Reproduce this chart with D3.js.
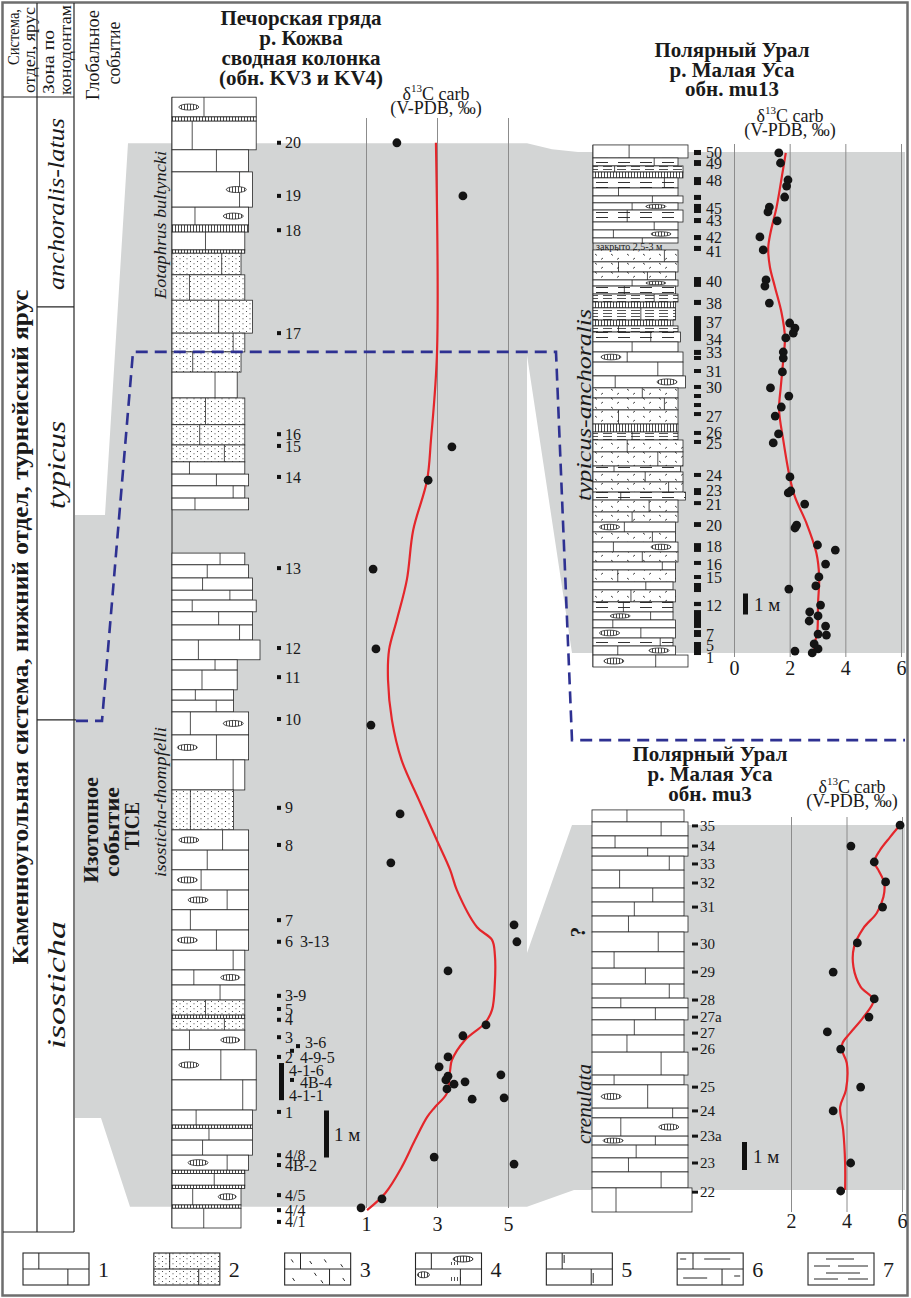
<!DOCTYPE html>
<html>
<head>
<meta charset="utf-8">
<script src="https://cdnjs.cloudflare.com/ajax/libs/d3/7.8.5/d3.min.js"></script>
<style>
  body { margin: 0; background: #fff; }
  .chart text { font-family: 'Liberation Serif', 'Times New Roman', serif; fill: #1a1a1a; }
</style>
</head>
<body>
<div class="chart"></div>
<script>
// ---------- данные: р. Кожва, обн. KV3 + KV4 (высота над основанием, м) ----------
let kvLabels = ['20', '19', '18', '17', '16', '15', '14', '13', '12', '11', '10', '9', '8', '7', '6',
  '3-9', '5', '4', '3', '2', '1', '4/8', '4B-2', '4/5', '4/4', '4/1']
let kvLabelH = [23.09, 21.96, 21.23, 19.04, 16.89, 16.64, 15.98, 14.04, 12.34, 11.72, 10.83, 8.94, 8.15, 6.55, 6.09,
  4.94, 4.66, 4.43, 4.06, 3.64, 2.47, 1.55, 1.34, 0.70, 0.38, 0.13]
let kvSubLabels = ['3-6', '4-9-5', '4B-4']
let kvSubH = [3.87, 3.77, 3.15]
let kvSubTextH = [3.94, 3.62, 3.10]
let kvNoteLabels = ['3-13', '4-1-6', '4-1-1']
let kvNoteH = [6.09, 3.36, 2.83]
let kvBarH = [3.51, 2.72]

// δ13C, ‰
let kvDotH = [23.09, 21.96, 16.62, 15.91, 14.02, 12.32, 10.70, 8.81, 7.77, 6.45, 6.09, 5.47, 4.32, 4.09,
  3.64, 3.43, 3.23, 3.15, 3.06, 3.11, 3.26, 2.96, 2.74, 2.77, 1.51, 1.36, 0.62, 0.43]
let kvDotD = [1.87, 3.73, 3.42, 2.75, 1.20, 1.28, 1.14, 1.96, 1.70, 5.17, 5.25, 3.31, 4.38, 3.73,
  3.31, 3.06, 3.31, 3.25, 3.48, 3.79, 4.80, 3.28, 3.99, 4.89, 2.92, 5.17, 1.45, 0.86]
let kvTrendH = [23.09, 18.62, 16.77, 15.91, 14.85, 13.79, 12.94, 12.30, 11.66, 10.81, 9.96, 9.11, 8.26, 7.62,
  7.19, 6.40, 6.13, 5.81, 5.21, 4.64, 4.36, 4.00, 3.57, 3.36, 2.87, 2.57, 2.36, 1.87, 1.30, 0.74, 0.38]
let kvTrendD = [2.97, 3.00, 2.83, 2.72, 2.33, 2.15, 1.87, 1.65, 1.62, 1.73, 2.00, 2.49, 2.99, 3.37,
  3.56, 4.13, 4.55, 4.63, 4.63, 4.55, 4.35, 3.79, 3.42, 3.37, 3.28, 2.94, 2.72, 2.38, 2.01, 1.54, 1.03]
let kvTicks = [1, 3, 5]

// слои: [кровля, подошва, выступ 0-5, литология]
let kvBeds = [
  [24.06, 23.64, 4.5, 'nod'], [23.64, 23.55, 4.5, 'chert'], [23.55, 22.94, 4.5, 'ls'],
  [22.94, 22.47, 3.5, 'ls'], [22.47, 21.72, 4, 'nod'], [21.72, 21.34, 3.5, 'nod'],
  [21.34, 21.19, 3.5, 'chert'], [21.19, 20.81, 3, 'ls'], [20.81, 20.74, 3, 'chert'],
  [20.74, 20.28, 2.5, 'sand'], [20.28, 19.74, 3, 'sand'], [19.74, 19.04, 4, 'sand'],
  [19.04, 18.64, 3, 'sand'], [18.64, 18.21, 2.5, 'sand'], [18.21, 17.66, 2, 'ls'],
  [17.66, 17.09, 3, 'sand'], [17.09, 16.66, 3, 'sand'], [16.66, 16.30, 3, 'sand'],
  [16.30, 16.04, 3, 'ls'], [16.04, 15.79, 3.5, 'ls'], [15.79, 15.53, 3, 'ls'], [15.53, 15.28, 3.5, 'ls'],
  [14.36, 14.11, 3, 'ls'], [14.11, 13.83, 3.5, 'ls'], [13.83, 13.57, 4, 'ls'], [13.57, 13.36, 4, 'ls'],
  [13.36, 13.11, 4.5, 'ls'], [13.11, 12.83, 4, 'ls'], [12.83, 12.51, 4, 'ls'], [12.51, 12.09, 5, 'ls'],
  [12.09, 11.87, 2, 'ls'], [11.87, 11.45, 2, 'ls'], [11.45, 11.23, 1.5, 'ls'], [11.23, 10.98, 1.5, 'ls'],
  [10.98, 10.49, 3.5, 'nod'], [10.49, 9.96, 3.5, 'nod'], [9.96, 9.32, 3, 'ls'], [9.32, 8.47, 1.5, 'sand'],
  [8.47, 8.04, 3.5, 'nod'], [8.04, 7.62, 3.5, 'ls'], [7.62, 7.19, 3.5, 'nod'], [7.19, 6.77, 3.5, 'nod'],
  [6.77, 6.34, 3.5, 'ls'], [6.34, 5.91, 3.5, 'nod'], [5.91, 5.49, 3, 'ls'], [5.49, 5.17, 3, 'nod'],
  [5.17, 4.85, 3, 'ls'], [4.85, 4.53, 3, 'sand'], [4.53, 4.46, 3, 'chert'], [4.46, 4.21, 3, 'sand'],
  [4.21, 3.79, 3, 'nod'], [3.79, 3.15, 4.5, 'nod'], [3.15, 2.51, 4.5, 'ls'], [2.51, 2.19, 4, 'ls'],
  [2.19, 2.12, 4, 'chert'], [2.12, 1.87, 4, 'ls'], [1.87, 1.55, 4, 'ls'], [1.55, 1.23, 3.5, 'nod'],
  [1.23, 1.16, 3, 'chert'], [1.16, 0.91, 3, 'ls'], [0.91, 0.84, 3, 'chert'], [0.84, 0.49, 2.5, 'nod'],
  [0.49, 0.42, 2.5, 'chert'], [0.42, 0, 2.5, 'ls']
]

// ---------- р. Малая Уса, обн. mu13 ----------
let mu13Labels = ['50', '49', '48', '45', '43', '42', '41', '40', '38', '37', '34', '33', '31', '30', '27', '26', '25',
  '24', '23', '21', '20', '18', '16', '15', '12', '7', '5', '1']
let mu13LabelH = [24.52, 24.0, 23.19, 21.86, 21.29, 20.48, 19.81, 18.38, 17.33, 16.43, 15.62, 15.0, 14.10, 13.33,
  11.95, 11.19, 10.67, 9.14, 8.43, 7.76, 6.76, 5.76, 4.90, 4.29, 2.95, 1.57, 1.05, 0.48]
// интервалы опробования [кровля, подошва]
let mu13Marks = [[24.62, 24.38], [24.14, 23.86], [23.33, 22.95], [22.48, 22.24], [22.05, 21.62], [21.38, 21.14],
  [20.57, 20.33], [20.05, 19.81], [18.57, 18.10], [17.48, 17.24], [16.71, 15.52], [15.10, 14.86], [14.81, 14.62],
  [14.19, 14.0], [13.43, 13.24], [13.0, 12.81], [12.57, 12.38], [12.14, 11.95], [11.24, 11.05], [10.81, 10.62],
  [9.24, 9.05], [8.52, 8.19], [7.90, 7.71], [6.90, 6.67], [5.90, 5.48], [5.05, 4.86], [4.38, 4.19], [4.0, 3.57],
  [3.10, 2.90], [2.71, 1.86], [1.76, 1.43], [1.19, 0.57]]
let mu13DotH = [24.48, 24.0, 23.19, 22.90, 22.38, 21.90, 21.67, 21.24, 20.48, 19.86, 18.43, 18.14, 17.33, 16.38,
  16.14, 15.90, 15.67, 15.0, 14.71, 14.05, 13.29, 12.90, 12.38, 11.95, 11.10, 10.67, 9.05, 8.29, 8.38, 7.76,
  6.62, 6.76, 5.81, 5.57, 4.90, 4.29, 3.86, 3.71, 2.95, 2.62, 2.43, 2.19, 1.95, 1.52, 1.57, 1.10, 0.86, 0.67, 0.76]
let mu13DotD = [1.61, 1.67, 1.94, 1.89, 1.82, 1.27, 1.22, 1.55, 0.93, 1.05, 1.15, 1.11, 1.27, 2.00,
  2.19, 2.13, 1.86, 1.77, 1.77, 1.74, 1.31, 1.97, 1.70, 1.48, 1.60, 1.41, 2.01, 1.95, 2.04, 2.54,
  2.19, 2.25, 3.00, 3.64, 3.29, 3.05, 2.94, 1.97, 3.11, 2.72, 3.02, 2.70, 3.29, 3.32, 3.02, 2.88, 3.02, 2.81, 2.19]
let mu13TrendH = [24.48, 23.52, 21.90, 20.67, 19.95, 19.05, 18.10, 16.86, 15.71, 14.62, 13.33, 12.24, 10.81,
  9.05, 8.10, 6.86, 5.43, 4.29, 3.05, 1.62, 1.14, 0.62]
let mu13TrendD = [1.86, 1.74, 1.53, 1.31, 1.23, 1.29, 1.47, 1.71, 1.83, 1.77, 1.68, 1.62, 1.77,
  2.00, 2.19, 2.60, 2.96, 3.06, 3.02, 2.99, 2.90, 2.87]
let mu13Ticks = [0, 2, 4, 6]
let mu13Beds = [
  [24.86, 24.24, 5, 'ls'], [24.24, 23.86, 3, 'shale'], [23.86, 23.57, 4, 'lam'], [23.57, 23.29, 4, 'chert'],
  [23.29, 22.81, 3, 'shale'], [22.81, 22.43, 3, 'ls'], [22.43, 22.10, 4, 'ls'], [22.10, 21.76, 3, 'nod'],
  [21.76, 21.19, 4, 'shale'], [21.19, 20.81, 3, 'ls'], [20.81, 20.43, 3, 'nod'], [20.43, 20.19, 3, 'ls'],
  [19.86, 19.29, 3, 'bio'], [19.29, 18.81, 3, 'bio'], [18.81, 18.43, 2.5, 'bio'], [18.43, 18.14, 3, 'nod'],
  [18.14, 17.76, 2.5, 'shale'], [17.76, 17.38, 3, 'lam'], [17.38, 17.10, 2.5, 'chert'], [17.10, 16.52, 2.5, 'lam'],
  [16.52, 16.24, 2, 'chert'], [16.24, 15.95, 3, 'lam'], [15.95, 15.48, 3.5, 'shale'], [15.48, 15.0, 3, 'ls'],
  [15.0, 14.52, 4, 'nod'], [14.52, 13.86, 4, 'ls'], [13.86, 13.29, 4.5, 'nod'], [13.29, 12.81, 3, 'bio'],
  [12.81, 12.24, 3, 'bio'], [12.24, 11.57, 3, 'bio'], [11.57, 11.19, 3, 'chert'], [11.19, 10.81, 3, 'lam'],
  [10.81, 10.24, 4, 'bio'], [10.24, 9.57, 4, 'bio'], [9.57, 9.29, 3.5, 'shale'], [9.29, 8.81, 4, 'bio'],
  [8.81, 8.33, 4, 'bio'], [8.33, 7.95, 4.5, 'shale'], [7.95, 7.38, 3, 'bio'], [7.38, 6.90, 3, 'bio'],
  [6.90, 6.43, 2.5, 'nod'], [6.43, 5.95, 2.5, 'bio'], [5.95, 5.48, 3, 'nod'], [5.48, 5.0, 3, 'bio'],
  [5.0, 4.62, 2.5, 'ls'], [4.62, 4.05, 2.5, 'bio'], [4.05, 3.67, 2, 'ls'], [3.67, 3.10, 2.5, 'bio'],
  [3.10, 2.62, 2, 'shale'], [2.62, 2.24, 2, 'nod'], [2.24, 1.86, 2.5, 'ls'], [1.86, 1.38, 2.5, 'nod'],
  [1.38, 1.0, 2, 'shale'], [1.0, 0.57, 2.5, 'nod'], [0.57, 0, 5, 'nod']
]

// ---------- р. Малая Уса, обн. mu3 ----------
let mu3Labels = ['35', '34', '33', '32', '31', '30', '29', '28', '27а', '27', '26', '25', '24', '23а', '23', '22']
let mu3LabelH = [13.79, 13.07, 12.43, 11.75, 10.89, 9.57, 8.57, 7.57, 6.96, 6.39, 5.82, 4.46, 3.61, 2.71, 1.75, 0.71]
let mu3DotH = [13.82, 13.07, 12.50, 11.79, 10.89, 9.61, 8.57, 7.61, 6.96, 6.43, 5.82, 4.46, 3.61, 1.75, 0.75]
let mu3DotD = [5.93, 4.16, 5.00, 5.41, 5.30, 4.39, 3.52, 5.00, 4.81, 3.31, 3.79, 4.51, 3.52, 4.15, 3.79]
let mu3TrendH = [13.82, 13.39, 12.93, 12.50, 12.21, 11.75, 11.25, 10.68, 10.14, 9.46, 8.75, 8.04, 7.57, 6.96,
  6.39, 6.04, 5.79, 5.32, 4.36, 3.75, 2.93, 1.75, 0.79]
let mu3TrendD = [5.93, 5.57, 5.21, 5.00, 5.15, 5.36, 5.33, 5.09, 4.61, 4.27, 4.25, 4.51, 4.97, 4.61,
  4.13, 3.86, 3.83, 4.01, 3.98, 3.77, 3.88, 3.95, 3.95]
let mu3Ticks = [2, 4, 6]
let mu3Beds = [
  [14.36, 13.93, 4, 'ls'], [13.93, 13.43, 4.5, 'ls'], [13.43, 13.0, 4.5, 'ls'], [13.0, 12.71, 4.5, 'ls'],
  [12.71, 12.21, 4, 'ls'], [12.21, 11.57, 4, 'ls'], [11.57, 11.07, 4, 'ls'], [11.07, 10.57, 4, 'ls'],
  [10.57, 10.0, 4.5, 'ls'], [10.0, 9.29, 4, 'ls'], [9.29, 8.71, 4, 'ls'], [8.71, 8.14, 4, 'ls'],
  [8.14, 7.64, 4, 'ls'], [7.64, 7.29, 4.5, 'ls'], [7.29, 6.86, 4.5, 'ls'], [6.86, 6.32, 4, 'ls'],
  [6.32, 5.71, 4, 'ls'], [5.71, 4.89, 4.5, 'ls'], [4.89, 4.54, 4, 'ls'], [4.54, 3.71, 4.5, 'nod'],
  [3.71, 3.36, 4.5, 'ls'], [3.36, 2.71, 4.5, 'nod'], [2.71, 2.39, 4.5, 'nod'], [2.39, 1.93, 4.5, 'ls'],
  [1.93, 1.43, 4.5, 'ls'], [1.43, 0.86, 4.5, 'ls'], [0.86, 0, 5, 'ls']
]

// ---------- стратиграфия ----------
let zoneNames = ['anchoralis-latus', 'typicus', 'isosticha']
let zoneBaseH = [19.6, 10.81] // границы зон по шкале KV
let legendNums = ['1', '2', '3', '4', '5', '6', '7']
let legendTypes = ['ls', 'sand', 'bio', 'nod', 'stylo', 'shale', 'lam']

// ---------- шкалы ----------
let yKV = d3.scaleLinear().domain([0, 24]).range([1228, 100])
let xKV = d3.scaleLinear().domain([1, 5]).range([366, 508])
let wKV = d3.scaleLinear().domain([0, 5]).range([50, 88])
let yMU13 = d3.scaleLinear().domain([0, 25]).range([667, 142])
let xMU13 = d3.scaleLinear().domain([0, 6]).range([734, 901])
let wMU13 = d3.scaleLinear().domain([0, 5]).range([70, 95])
let yMU3 = d3.scaleLinear().domain([0, 14.5]).range([1212, 806])
let xMU3 = d3.scaleLinear().domain([2, 6]).range([791, 902])
let wMU3 = d3.scaleLinear().domain([0, 5]).range([60, 100])

let serif = "'Liberation Serif', 'Times New Roman', serif"
let grey = '#d3d5d5'
let red = '#e4262b'
let ink = '#262626'
let jointSteps = [0.38, 0.72, 0.24, 0.58, 0.84, 0.3, 0.66, 0.46]
let fills = {
  ls: '#fff', sand: 'url(#pSand)', bio: 'url(#pBio)', nod: '#fff',
  chert: 'url(#pChert)', shale: 'url(#pShale)', lam: 'url(#pLam)', stylo: '#fff'
}

let svg = d3.select('.chart').append('svg').attr('width', 911).attr('height', 1298)
  .attr('font-family', serif)

function drawDefs () {
  let defs = svg.append('defs')
  let p = defs.append('pattern').attr('id', 'pSand').attr('patternUnits', 'userSpaceOnUse')
    .attr('width', 7).attr('height', 5)
  p.append('rect').attr('width', 7).attr('height', 5).attr('fill', '#fff')
  p.append('circle').attr('cx', 1.5).attr('cy', 1.5).attr('r', 0.55).attr('fill', '#333')
  p.append('circle').attr('cx', 5).attr('cy', 3.8).attr('r', 0.55).attr('fill', '#333')

  p = defs.append('pattern').attr('id', 'pBio').attr('patternUnits', 'userSpaceOnUse')
    .attr('width', 16).attr('height', 9)
  p.append('rect').attr('width', 16).attr('height', 9).attr('fill', '#fff')
  p.append('path').attr('d', 'M3,2 l2,1.5 M11,6 l-2,1.5').attr('stroke', '#333').attr('stroke-width', 0.9)

  p = defs.append('pattern').attr('id', 'pShale').attr('patternUnits', 'userSpaceOnUse')
    .attr('width', 22).attr('height', 5)
  p.append('rect').attr('width', 22).attr('height', 5).attr('fill', '#fff')
  p.append('path').attr('d', 'M2,2.5 h12').attr('stroke', '#333').attr('stroke-width', 1)

  p = defs.append('pattern').attr('id', 'pLam').attr('patternUnits', 'userSpaceOnUse')
    .attr('width', 14).attr('height', 3)
  p.append('rect').attr('width', 14).attr('height', 3).attr('fill', '#fff')
  p.append('path').attr('d', 'M1,1.5 h9').attr('stroke', '#444').attr('stroke-width', 0.9)

  p = defs.append('pattern').attr('id', 'pChert').attr('patternUnits', 'userSpaceOnUse')
    .attr('width', 3).attr('height', 4)
  p.append('rect').attr('width', 3).attr('height', 4).attr('fill', '#fff')
  p.append('path').attr('d', 'M1.5,0 v4').attr('stroke', '#333').attr('stroke-width', 0.9)
}

// серые полосы корреляции
function drawBands () {
  let g = svg.append('g').attr('class', 'bands')
  let kvBand = [[128, yKV(23.08)], [527, yKV(23.08)], [527, yKV(0.45)], [130, yKV(0.45)],
    [101, yKV(2.34)], [75, yKV(2.34)], [75, yKV(15.17)], [105, yKV(15.17)]]
  let mu13Band = [[527, yKV(23.08)], [552, yKV(22.95)], [578, yMU13(24.52)], [905, yMU13(24.52)],
    [905, yMU13(0.67)], [572, yMU13(0.67)], [527, yKV(18.57)]]
  let mu3Band = [[527, yKV(5.85)], [572, yMU3(13.82)], [905, yMU3(13.82)], [905, yMU3(0.79)],
    [574, yMU3(0.79)], [527, yKV(0.45)]]
  g.selectAll('path').data([kvBand, mu13Band, mu3Band]).join('path')
    .attr('d', (d) => 'M' + d.join('L') + 'Z')
    .attr('fill', grey)
}

function rotText (g, x, y, txt, size, style, len) {
  let t = g.append('text')
    .attr('transform', `translate(${x},${y}) rotate(-90)`)
    .attr('text-anchor', 'middle')
    .attr('dy', '0.35em')
    .attr('font-family', serif)
    .attr('font-size', size)
    .attr('font-weight', style === 'bold' ? 'bold' : 'normal')
    .attr('font-style', style === 'italic' ? 'italic' : 'normal')
    .text(txt)
  if (len) t.attr('textLength', len).attr('lengthAdjust', 'spacingAndGlyphs')
  return t
}

function drawFrame () {
  let g = svg.append('g').attr('class', 'frame')
  g.append('rect').attr('x', 2.5).attr('y', 2.5).attr('width', 905).attr('height', 1293)
    .attr('fill', 'none').attr('stroke', '#6e6e6e').attr('stroke-width', 2.5)
  let lines = [[37, 3, 37, 1232], [74, 3, 74, 1232], [3, 97, 74, 97], [3, 1232, 74, 1232],
    [37, yKV(zoneBaseH[0]), 74, yKV(zoneBaseH[0])], [37, yKV(zoneBaseH[1]), 76, yKV(zoneBaseH[1])]]
  g.selectAll('line').data(lines).join('line')
    .attr('x1', (d) => d[0]).attr('y1', (d) => d[1]).attr('x2', (d) => d[2]).attr('y2', (d) => d[3])
    .attr('stroke', ink).attr('stroke-width', 1.2)

  rotText(g, 13, 37, 'Система,', 17, '', 56)
  rotText(g, 29, 50, 'отдел, ярус', 17, '', 86)
  rotText(g, 48, 62, 'Зона по', 17, '', 64)
  rotText(g, 65, 50, 'конодонтам', 17, '', 90)
  rotText(g, 93, 55, 'Глобальное', 18, '', 90)
  rotText(g, 114, 53, 'событие', 18, '', 63)
  rotText(g, 20, 627, 'Каменноугольная система, нижний отдел, турнейский ярус', 23, 'bold', 675)
  rotText(g, 56, 204, zoneNames[0], 23, 'italic', 172)
  rotText(g, 56, 465, zoneNames[1], 25, 'italic', 88)
  rotText(g, 56, 985, zoneNames[2], 25, 'italic', 128)
  rotText(g, 91, 830, 'Изотопное', 21, 'bold', 106)
  rotText(g, 112, 832, 'событие', 21, 'bold', 90)
  rotText(g, 132, 826, 'TICE', 21, 'bold', 48)
  rotText(g, 160, 802, 'isosticha-thompfelli', 17, 'italic', 150)
  rotText(g, 160, 225, 'Eotaphrus bultyncki', 17, 'italic', 148)
  rotText(g, 584, 405, 'typicus-anchoralis', 21, 'italic', 192)
  rotText(g, 584, 1104, 'crenulata', 21, 'italic', 80)
  rotText(g, 578, 932, '?', 21, 'bold')
}

function title (g, cx, y0, lines, step) {
  g.selectAll('text.title').data(lines).join('text')
    .attr('class', 'title')
    .attr('x', cx).attr('y', (d, i) => y0 + i * step)
    .attr('text-anchor', 'middle').attr('font-size', 21).attr('font-weight', 'bold')
    .attr('font-family', serif)
    .text((d) => d)
}

function isoLabel (g, cx, y) {
  let t = g.append('text').attr('x', cx).attr('y', y).attr('text-anchor', 'middle').attr('font-size', 18)
    .attr('font-family', serif)
  t.append('tspan').text('δ')
  t.append('tspan').attr('font-size', 11).attr('dy', -8).text('13')
  t.append('tspan').attr('dy', 8).text('C carb')
  g.append('text').attr('x', cx).attr('y', y + 14).attr('text-anchor', 'middle').attr('font-size', 18)
    .attr('font-family', serif).text('(V-PDB, ‰)')
}

function grid (g, x, ticks, yTop, yBot, pad) {
  let ax = g.append('g').attr('transform', `translate(0,${yBot})`)
    .call(d3.axisBottom(x).tickValues(ticks).tickSize(-(yBot - yTop)).tickPadding(pad).tickFormat(d3.format('d')))
  ax.select('.domain').remove()
  ax.selectAll('line').attr('stroke', '#8c8c8c').attr('stroke-width', 1)
  ax.selectAll('text').attr('font-size', 20).attr('fill', '#1a1a1a').attr('font-family', serif)
}

function drawBeds (g, beds, y, x0, w) {
  beds.forEach((b, i) => {
    let top = y(b[0])
    let bot = y(b[1])
    let bw = w(b[2])
    let h = bot - top
    g.append('rect').attr('x', x0).attr('y', top).attr('width', bw).attr('height', h)
      .attr('fill', fills[b[3]]).attr('stroke', ink).attr('stroke-width', 0.8)
    if (b[3] !== 'chert' && h > 4) {
      let jx = x0 + bw * jointSteps[i % jointSteps.length]
      g.append('line').attr('x1', jx).attr('x2', jx).attr('y1', top).attr('y2', bot)
        .attr('stroke', ink).attr('stroke-width', 0.8)
    }
    if (b[3] === 'nod' && h > 5) {
      let f = (jointSteps[(i + 3) % jointSteps.length] + 0.5) % 1
      let nx = x0 + bw * Math.min(0.8, Math.max(0.2, f))
      g.append('ellipse').attr('cx', nx).attr('cy', (top + bot) / 2)
        .attr('rx', Math.min(10, bw * 0.13)).attr('ry', Math.min(3, h * 0.28))
        .attr('fill', 'url(#pChert)').attr('stroke', ink).attr('stroke-width', 0.8)
    }
  })
}

function trend (g, hs, ds, x, y) {
  let line = d3.line().x((d) => x(d[1])).y((d) => y(d[0])).curve(d3.curveCatmullRom.alpha(0.5))
  g.append('path').datum(d3.zip(hs, ds)).attr('d', line)
    .attr('fill', 'none').attr('stroke', red).attr('stroke-width', 2.2)
}

function dots (g, hs, ds, x, y) {
  g.selectAll('circle.dot').data(d3.zip(hs, ds)).join('circle')
    .attr('class', 'dot')
    .attr('cx', (d) => x(d[1])).attr('cy', (d) => y(d[0])).attr('r', 4.4)
    .attr('fill', '#141414')
}

function drawKV () {
  let g = svg.append('g').attr('class', 'kv')
  title(g, 301, 25, ['Печорская гряда', 'р. Кожва', 'сводная колонка', '(обн. KV3 и KV4)'], 20)
  isoLabel(g, 436, 100)
  grid(g, xKV, kvTicks, 118, 1208, 9)

  let col = g.append('g')
  col.append('line').attr('x1', 172).attr('x2', 172).attr('y1', yKV(24.06)).attr('y2', yKV(0))
    .attr('stroke', ink).attr('stroke-width', 1)
  drawBeds(col, kvBeds, yKV, 172, wKV)

  let lab = g.append('g')
  lab.selectAll('rect.s').data(d3.zip(kvLabels, kvLabelH)).join('rect')
    .attr('class', 's').attr('x', 277).attr('y', (d) => yKV(d[1]) - 2).attr('width', 4).attr('height', 4)
    .attr('fill', '#111')
  lab.selectAll('text.s').data(d3.zip(kvLabels, kvLabelH)).join('text')
    .attr('class', 's').attr('x', 285).attr('y', (d) => yKV(d[1])).attr('dy', '0.35em')
    .attr('font-size', 16).text((d) => d[0])
  lab.selectAll('rect.sub').data(kvSubH).join('rect')
    .attr('class', 'sub').attr('x', (d, i) => i === 0 ? 296 : 290).attr('y', (d) => yKV(d) - 2)
    .attr('width', 4).attr('height', 4).attr('fill', '#111')
  lab.selectAll('text.sub').data(d3.zip(kvSubLabels, kvSubTextH)).join('text')
    .attr('class', 'sub').attr('x', (d, i) => i === 0 ? 305 : 300).attr('y', (d) => yKV(d[1]))
    .attr('dy', '0.35em').attr('font-size', 16).text((d) => d[0])
  lab.selectAll('text.note').data(d3.zip(kvNoteLabels, kvNoteH)).join('text')
    .attr('class', 'note').attr('x', (d, i) => i === 0 ? 300 : 289).attr('y', (d) => yKV(d[1]))
    .attr('dy', '0.35em').attr('font-size', 16).text((d) => d[0])
  lab.append('rect').attr('x', 279).attr('y', yKV(kvBarH[0])).attr('width', 5)
    .attr('height', yKV(kvBarH[1]) - yKV(kvBarH[0])).attr('fill', '#111')

  // масштаб 1 м
  g.append('rect').attr('x', 324).attr('y', yKV(2.5)).attr('width', 5).attr('height', yKV(1.5) - yKV(2.5))
    .attr('fill', '#111')
  g.append('text').attr('x', 334).attr('y', yKV(2)).attr('dy', '0.35em').attr('font-size', 19).text('1 м')

  trend(g, kvTrendH, kvTrendD, xKV, yKV)
  dots(g, kvDotH, kvDotD, xKV, yKV)
}

function drawMU13 () {
  let g = svg.append('g').attr('class', 'mu13')
  title(g, 732, 57, ['Полярный Урал', 'р. Малая Уса', 'обн. mu13'], 19.5)
  isoLabel(g, 790, 122)
  grid(g, xMU13, mu13Ticks, 144, 657, 4)

  let col = g.append('g')
  col.append('line').attr('x1', 593).attr('x2', 593).attr('y1', yMU13(24.86)).attr('y2', yMU13(0))
    .attr('stroke', ink).attr('stroke-width', 1)
  drawBeds(col, mu13Beds, yMU13, 593, wMU13)
  g.append('text').attr('x', 596).attr('y', yMU13(20.03)).attr('dy', '0.35em')
    .attr('font-size', 10).attr('fill', '#444').text('закрыто 2,5-3 м')

  g.selectAll('rect.m').data(mu13Marks).join('rect')
    .attr('class', 'm').attr('x', 694).attr('y', (d) => yMU13(d[0]))
    .attr('width', 7).attr('height', (d) => yMU13(d[1]) - yMU13(d[0])).attr('fill', '#141414')
  g.selectAll('text.m').data(d3.zip(mu13Labels, mu13LabelH)).join('text')
    .attr('class', 'm').attr('x', 706).attr('y', (d) => yMU13(d[1])).attr('dy', '0.35em')
    .attr('font-size', 16).text((d) => d[0])

  g.append('rect').attr('x', 743).attr('y', yMU13(3.5)).attr('width', 5)
    .attr('height', yMU13(2.5) - yMU13(3.5)).attr('fill', '#111')
  g.append('text').attr('x', 754).attr('y', yMU13(3)).attr('dy', '0.35em').attr('font-size', 19).text('1 м')

  trend(g, mu13TrendH, mu13TrendD, xMU13, yMU13)
  dots(g, mu13DotH, mu13DotD, xMU13, yMU13)
}

function drawMU3 () {
  let g = svg.append('g').attr('class', 'mu3')
  title(g, 710, 761, ['Полярный Урал', 'р. Малая Уса', 'обн. mu3'], 20)
  isoLabel(g, 852, 793)
  grid(g, xMU3, mu3Ticks, 817, 1212, 2)

  let col = g.append('g')
  drawBeds(col, mu3Beds, yMU3, 592, wMU3)

  g.selectAll('rect.m').data(mu3LabelH).join('rect')
    .attr('class', 'm').attr('x', 692).attr('y', (d) => yMU3(d) - 1.5)
    .attr('width', 6).attr('height', 3).attr('fill', '#141414')
  g.selectAll('text.m').data(d3.zip(mu3Labels, mu3LabelH)).join('text')
    .attr('class', 'm').attr('x', 700).attr('y', (d) => yMU3(d[1])).attr('dy', '0.35em')
    .attr('font-size', 15).text((d) => d[0])

  g.append('rect').attr('x', 742).attr('y', yMU3(2.5)).attr('width', 5)
    .attr('height', yMU3(1.5) - yMU3(2.5)).attr('fill', '#111')
  g.append('text').attr('x', 753).attr('y', yMU3(2)).attr('dy', '0.35em').attr('font-size', 19).text('1 м')

  trend(g, mu3TrendH, mu3TrendD, xMU3, yMU3)
  dots(g, mu3DotH, mu3DotD, xMU3, yMU3)
}

// граница изотопного события (пунктир)
function drawBoundary () {
  let pts = [[76, yKV(10.79)], [102, yKV(10.79)], [133, yKV(18.64)], [556, yKV(18.64)],
    [572, yKV(10.38)], [905, yKV(10.38)]]
  svg.append('path').attr('d', 'M' + pts.join('L'))
    .attr('fill', 'none').attr('stroke', '#2e3192').attr('stroke-width', 2.6)
    .attr('stroke-dasharray', '12,7')
}

function drawLegend () {
  let g = svg.append('g').attr('class', 'legend')
  let xL = d3.scaleLinear().domain([0, 6]).range([23, 808])
  let bw = 66
  let bh = 32
  let y0 = 1253
  legendTypes.forEach((t, i) => {
    let x = xL(i)
    let bg = g.append('g')
    bg.append('rect').attr('x', x).attr('y', y0).attr('width', bw).attr('height', bh)
      .attr('fill', t === 'sand' ? 'url(#pSand)' : '#fff').attr('stroke', ink).attr('stroke-width', 1.1)
    let seg = []
    if (t !== 'lam') {
      seg.push([x, y0 + bh / 2, x + bw, y0 + bh / 2])
      seg.push([x + bw * 0.24, y0, x + bw * 0.24, y0 + bh / 2])
      seg.push([x + bw * 0.68, y0 + bh / 2, x + bw * 0.68, y0 + bh])
    }
    if (t === 'stylo') {
      seg.push([x + bw * 0.27, y0 + 2, x + bw * 0.27, y0 + 10])
      seg.push([x + bw * 0.71, y0 + bh / 2 + 4, x + bw * 0.71, y0 + bh - 2])
    }
    if (t === 'shale') {
      seg.push([x + 3, y0 + 6, x + 9, y0 + 6], [x + 27, y0 + 6, x + 53, y0 + 6],
        [x + 6, y0 + 25, x + 30, y0 + 25], [x + 57, y0 + 23, x + 63, y0 + 23])
    }
    if (t === 'lam') {
      seg.push([x + 18, y0 + 6, x + 46, y0 + 6], [x + 6, y0 + 13, x + 22, y0 + 13],
        [x + 30, y0 + 13, x + 60, y0 + 13], [x + 18, y0 + 20, x + 52, y0 + 20],
        [x + 6, y0 + 26, x + 30, y0 + 26], [x + 40, y0 + 26, x + 60, y0 + 26])
    }
    if (t === 'bio') {
      let marks = [[0.1, 0.2], [0.38, 0.25], [0.6, 0.2], [0.85, 0.35], [0.12, 0.78], [0.45, 0.62],
        [0.55, 0.85], [0.88, 0.78]]
      marks.forEach((m) => seg.push([x + bw * m[0], y0 + bh * m[1], x + bw * m[0] + 2, y0 + bh * m[1] + 3]))
    }
    bg.selectAll('line').data(seg).join('line')
      .attr('x1', (d) => d[0]).attr('y1', (d) => d[1]).attr('x2', (d) => d[2]).attr('y2', (d) => d[3])
      .attr('stroke', ink).attr('stroke-width', 1)
    if (t === 'nod') {
      bg.append('ellipse').attr('cx', x + bw * 0.72).attr('cy', y0 + 6).attr('rx', 10).attr('ry', 3)
        .attr('fill', 'url(#pChert)').attr('stroke', ink).attr('stroke-width', 0.9)
      bg.append('ellipse').attr('cx', x + bw * 0.12).attr('cy', y0 + bh * 0.68).attr('rx', 6).attr('ry', 3)
        .attr('fill', 'url(#pChert)').attr('stroke', ink).attr('stroke-width', 0.9)
      bg.append('path').attr('d', `M${x + 36},${y0 + 12} v-3 M${x + 39},${y0 + 12} v-3 M${x + 42},${y0 + 12} v-3` +
        `M${x + 36},${y0 + 28} v-4 M${x + 39},${y0 + 28} v-4 M${x + 42},${y0 + 28} v-4 M${x + 45},${y0 + 28} v-4`)
        .attr('stroke', ink).attr('stroke-width', 0.8)
    }
    bg.append('text').attr('x', x + bw + 9).attr('y', y0 + bh / 2).attr('dy', '0.35em')
      .attr('font-size', 22).text(legendNums[i])
  })
}

function init () {
  drawDefs()
  drawBands()
  drawFrame()
  drawKV()
  drawMU13()
  drawMU3()
  drawBoundary()
  drawLegend()
}

init()
</script>
</body>
</html>
